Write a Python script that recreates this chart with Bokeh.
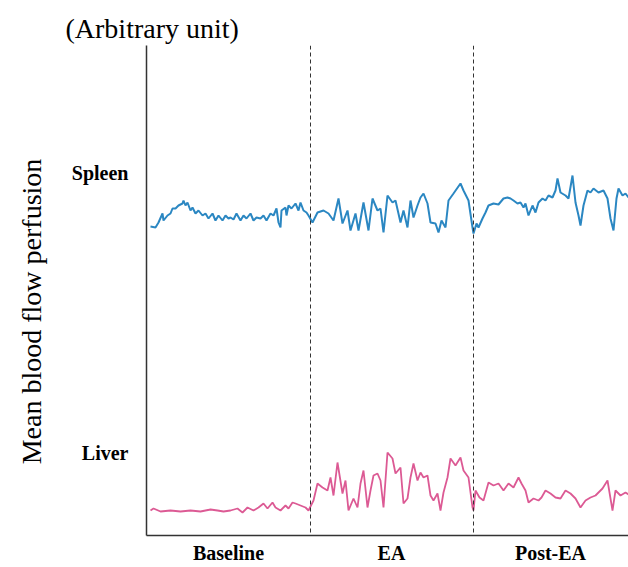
from bokeh.plotting import figure
from bokeh.models import Range1d, Span, FixedTicker
from bokeh.embed import file_html
from bokeh.resources import INLINE

# Sample index (arbitrary time samples) and perfusion (arbitrary units)
phase_names = ["Baseline", "EA", "Post-EA"]
phase_centers = [82, 245, 404]
phase_bounds = [164, 327]
organ_names = ["Spleen", "Liver"]
organ_label_pos = [363, 83]

spleen_t = [4, 9, 12, 16, 17, 21, 24, 26, 29, 32, 36, 37, 39, 41, 44, 46, 49, 52, 56, 59,
            62, 66, 69, 72, 76, 79, 82, 84, 87, 90, 94, 97, 100, 104, 107, 110, 114, 117,
            120, 124, 127, 130, 132, 134, 135, 139, 140, 142, 145, 149, 152, 154, 157, 160,
            162, 166, 171, 177, 182, 187, 192, 196, 201, 204, 209, 212, 217, 222, 226,
            231, 234, 237, 241, 246, 249, 254, 257, 261, 264, 267, 271, 274, 277, 281,
            284, 289, 292, 295, 299, 302, 307, 314, 317, 322, 326,
            327, 330, 332, 336, 339, 342, 347, 352, 357, 361, 364, 367, 371, 374, 377,
            379, 382, 386, 389, 392, 396, 399, 402, 406, 409, 411, 414, 419, 422, 426,
            429, 432, 434, 437, 441, 444, 447, 452, 457, 461, 464, 467, 470, 472, 476,
            479, 482]
spleen_v = [309, 308, 313, 322, 315, 320, 322, 327, 327, 330, 332, 335, 330, 333, 325, 328,
            322, 325, 320, 322, 317, 322, 315, 320, 315, 320, 317, 318, 316, 322, 315, 320,
            317, 322, 315, 318, 317, 320, 315, 322, 320, 327, 313, 308, 325, 328, 320, 330,
            327, 332, 325, 333, 325, 323,
            320, 313, 323, 325, 322, 315, 337, 312, 325, 305, 322, 305, 333, 305, 337,
            325, 327, 303, 340, 333, 335, 313, 325, 308, 335, 318, 330, 338, 342, 332,
            313, 312, 303, 315, 308, 335, 342, 352, 345, 335, 308,
            302, 312, 308, 317, 323, 330, 332, 331, 337, 338, 337, 335, 332, 333, 328,
            332, 320, 330, 323, 333, 337, 335, 340, 338, 345, 357, 343, 340, 337, 360,
            333, 320, 310, 330, 345, 343, 347, 343, 345, 337, 317, 305, 337, 347, 340,
            342, 338]

liver_t = [4, 7, 14, 24, 34, 44, 54, 64, 71, 77, 84, 91, 96, 101, 107, 112, 117, 121, 126,
           129, 134, 139, 142, 146, 149, 154, 159,
           162, 167, 171, 176, 181, 184, 187, 191, 196, 199, 202, 207, 211, 214, 217, 221,
           224, 227, 231, 234, 237, 241, 246, 249, 254, 257, 261, 264, 267, 271, 274, 277,
           281, 284, 287, 291, 294, 297, 301, 304, 309, 314, 317, 322, 326,
           327, 329, 333, 337, 342, 347, 352, 357, 362, 367, 372, 375, 379, 382, 387, 392,
           395, 399, 404, 409, 414, 419, 424, 429, 434, 439, 444, 449, 456, 461, 466, 469,
           474, 479, 482]
liver_v = [25, 27, 24, 25, 24, 25, 24, 26, 25, 24, 25, 27, 23, 28, 25, 28, 32, 27, 33,
           28, 25, 30, 27, 33, 32, 30, 28,
           25, 35, 52, 48, 45, 58, 40, 73, 42, 55, 25, 37, 28, 52, 65, 28,
           45, 60, 62, 55, 28, 83, 77, 62, 68, 32, 37, 58, 72, 55, 63, 58,
           60, 40, 35, 42, 25, 43, 58, 77, 70, 78, 65, 58, 28,
           25, 45, 38, 35, 53, 50, 52, 45, 52, 48, 58, 52, 45, 33, 37, 35,
           38, 45, 42, 38, 37, 45, 42, 37, 28, 35, 38, 40, 47, 55, 25, 45,
           40, 43, 41]

serif = "Liberation Serif"

p = figure(width=628, height=567, output_backend="svg", toolbar_location=None,
           x_range=Range1d(0, 482), y_range=Range1d(0, 490),
           min_border_left=146, min_border_right=0, min_border_top=45, min_border_bottom=32,
           title="(Arbitrary unit)")
p.background_fill_color = "white"
p.border_fill_color = "white"
p.outline_line_color = None
p.grid.grid_line_color = None

p.title.text_font = serif
p.title.text_font_style = "normal"
p.title.text_font_size = "28px"
p.title.text_color = "black"
p.title.align = "left"
p.title.offset = -81
p.title.standoff = 4

p.line(spleen_t, spleen_v, line_color="#2b87c2", line_width=2)
p.line(liver_t, liver_v, line_color="#dc5a94", line_width=1.8)

for b in phase_bounds:
    p.add_layout(Span(location=b, dimension="height", line_color="#333333",
                      line_width=1, line_dash="4 3"))

xa = p.xaxis[0]
xa.ticker = FixedTicker(ticks=phase_centers)
xa.major_label_overrides = {c: n for c, n in zip(phase_centers, phase_names)}
xa.major_tick_line_color = None
xa.minor_tick_line_color = None
xa.major_tick_out = 0
xa.axis_line_color = "#333333"
xa.axis_line_width = 1.5
xa.major_label_text_font = serif
xa.major_label_text_font_style = "bold"
xa.major_label_text_font_size = "20px"
xa.major_label_text_color = "black"
xa.major_label_standoff = 6

ya = p.yaxis[0]
ya.ticker = FixedTicker(ticks=organ_label_pos)
ya.major_label_overrides = {c: n for c, n in zip(organ_label_pos, organ_names)}
ya.major_tick_line_color = None
ya.minor_tick_line_color = None
ya.major_tick_out = 0
ya.axis_line_color = "#333333"
ya.axis_line_width = 1.5
ya.major_label_text_font = serif
ya.major_label_text_font_style = "bold"
ya.major_label_text_font_size = "20px"
ya.major_label_text_color = "black"
ya.major_label_standoff = 18
ya.axis_label = "Mean blood flow perfusion" + "\u00a0" * 6
ya.axis_label_text_font = serif
ya.axis_label_text_font_style = "normal"
ya.axis_label_text_font_size = "28px"
ya.axis_label_text_color = "black"
ya.axis_label_standoff = 22

open("out.html", "w").write(file_html(p, INLINE))
